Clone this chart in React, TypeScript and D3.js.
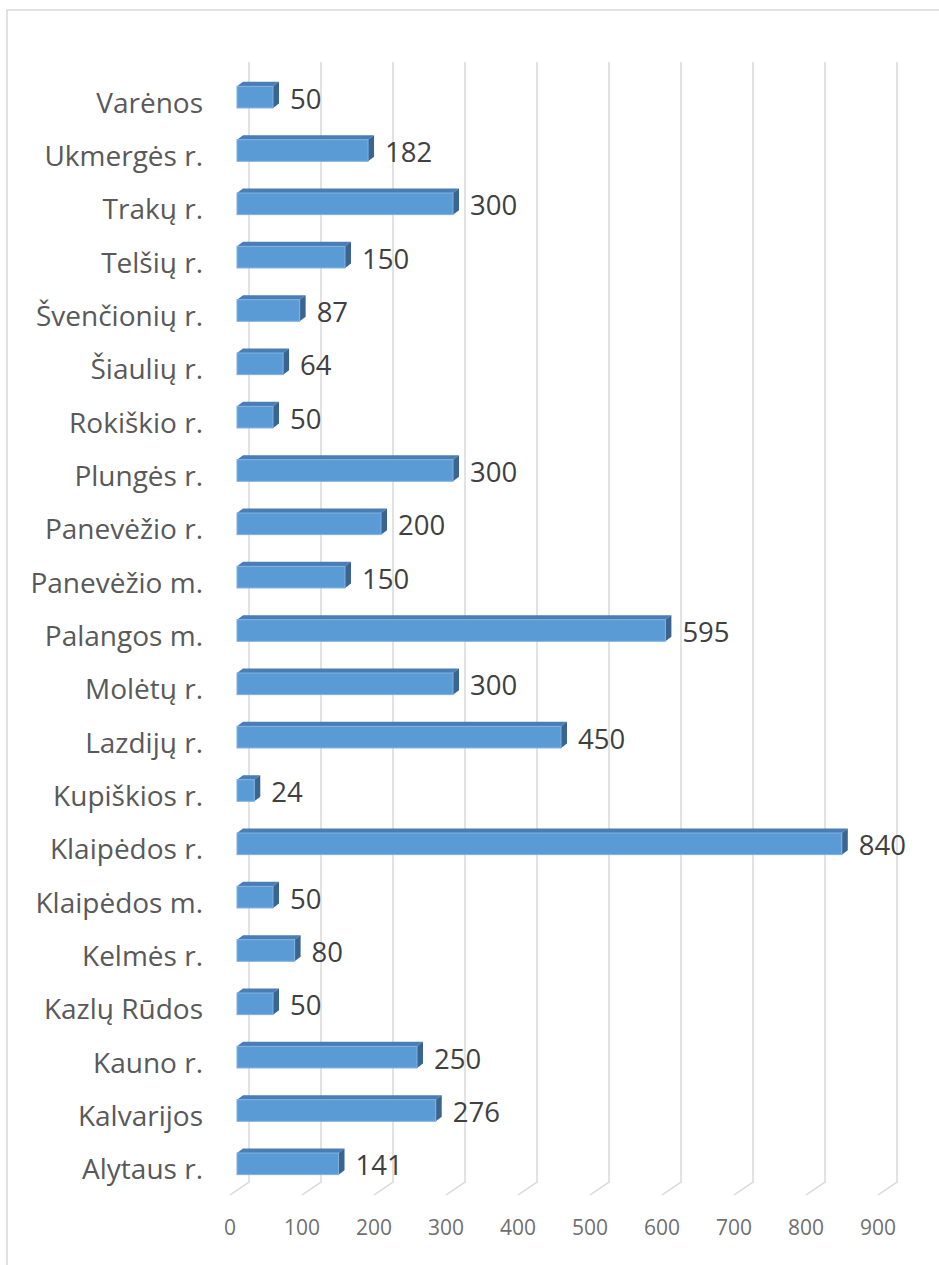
import React from "react";
import * as d3 from "d3";

const categories = [
  "Varėnos", "Ukmergės r.", "Trakų r.", "Telšių r.", "Švenčionių r.", "Šiaulių r.",
  "Rokiškio r.", "Plungės r.", "Panevėžio r.", "Panevėžio m.", "Palangos m.",
  "Molėtų r.", "Lazdijų r.", "Kupiškios r.", "Klaipėdos r.", "Klaipėdos m.",
  "Kelmės r.", "Kazlų Rūdos", "Kauno r.", "Kalvarijos", "Alytaus r.",
];
const values = [50, 182, 300, 150, 87, 64, 50, 300, 200, 150, 595, 300, 450, 24, 840, 50, 80, 50, 250, 276, 141];
const ticks = [0, 100, 200, 300, 400, 500, 600, 700, 800, 900];

const W = 939;
const H = 1265;
const FONT = "'Open Sans', 'Liberation Sans', sans-serif";

// depth offsets (back wall -> front)
const DEPTH = { dx: -19, dy: 13 };
const BAR_BACK = { dx: -6, dy: 4 };
const BAR_FRONT = { dx: -12, dy: 8.5 };

export default function App() {
  const x = d3.scaleLinear().domain([0, 900]).range([249, 897]);
  const y = d3.scaleBand<string>().domain(categories).range([62, 1182]).paddingInner(0);
  const barH = y.bandwidth() * 0.405;

  return (
    <svg
      width={W}
      height={H}
      style={{ position: "absolute", left: 0, top: 0, background: "#fff" }}
      fontFamily={FONT}
    >
      <rect x={7} y={10} width={W + 20} height={H + 20} fill="#fff" stroke="#D9D9D9" strokeWidth={1.5} />
      {ticks.map((t) => {
        const gx = x(t);
        const y0 = y.range()[0];
        const y1 = y.range()[1];
        return (
          <g key={t}>
            <path
              d={`M${gx},${y0}L${gx},${y1}L${gx + DEPTH.dx},${y1 + DEPTH.dy}`}
              fill="none"
              stroke="#D9D9D9"
              strokeWidth={1.5}
            />
            <text x={gx + DEPTH.dx} y={1235} textAnchor="middle" fontSize={21} fill="#6F6F6F">
              {t}
            </text>
          </g>
        );
      })}
      {categories.map((c, i) => {
        const v = values[i];
        const cy = (y(c) as number) + y.bandwidth() / 2;
        const x0 = x(0);
        const xv = x(v);
        const fTop = cy + BAR_FRONT.dy - barH / 2;
        const fBot = cy + BAR_FRONT.dy + barH / 2;
        const bTop = cy + BAR_BACK.dy - barH / 2;
        const bBot = cy + BAR_BACK.dy + barH / 2;
        const fl = x0 + BAR_FRONT.dx;
        const fr = xv + BAR_FRONT.dx;
        const bl = x0 + BAR_BACK.dx;
        const br = xv + BAR_BACK.dx;
        return (
          <g key={c}>
            <path d={`M${fl},${fTop}L${bl},${bTop}L${br},${bTop}L${fr},${fTop}Z`} fill="#4A7DB3" />
            <path d={`M${fr},${fTop}L${br},${bTop}L${br},${bBot}L${fr},${fBot}Z`} fill="#3A6590" />
            <rect x={fl} y={fTop} width={fr - fl} height={fBot - fTop} fill="#5B9BD5" stroke="#7FB2E2" strokeWidth={1} />
            <text x={br + 11} y={cy + 20} fontSize={27.5} fill="#404040">
              {v}
            </text>
            <text x={203} y={cy + 24} textAnchor="end" fontSize={28} fill="#595959">
              {c}
            </text>
          </g>
        );
      })}
    </svg>
  );
}
